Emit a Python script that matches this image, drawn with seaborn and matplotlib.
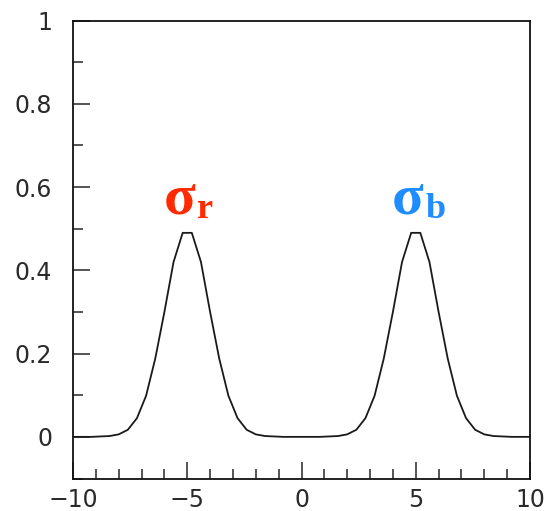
import matplotlib
matplotlib.use("Agg")
import matplotlib.pyplot as plt
import seaborn as sns
import pandas as pd
from matplotlib.ticker import MultipleLocator

x_vals = [-10.0, -9.6, -9.2, -8.8, -8.4, -8.0, -7.6, -7.2, -6.8, -6.4,
          -6.0, -5.6, -5.2, -4.8, -4.4, -4.0, -3.6, -3.2, -2.8, -2.4,
          -2.0, -1.6, -1.2, -0.8, -0.4, 0.0, 0.4, 0.8, 1.2, 1.6,
          2.0, 2.4, 2.8, 3.2, 3.6, 4.0, 4.4, 4.8, 5.2, 5.6,
          6.0, 6.4, 6.8, 7.2, 7.6, 8.0, 8.4, 8.8, 9.2, 9.6, 10.0]
y_vals = [0.0, 0.0, 0.0, 0.001, 0.002, 0.006, 0.017, 0.045, 0.099, 0.188,
          0.30, 0.42, 0.49, 0.49, 0.42, 0.30, 0.188, 0.099, 0.045, 0.017,
          0.006, 0.002, 0.001, 0.0, 0.0, 0.0, 0.0, 0.0, 0.001, 0.002,
          0.006, 0.017, 0.045, 0.099, 0.188, 0.30, 0.42, 0.49, 0.49, 0.42,
          0.30, 0.188, 0.099, 0.045, 0.017, 0.006, 0.002, 0.001, 0.0, 0.0, 0.0]

x_ticks = [-10, -5, 0, 5, 10]
y_ticks = [0, 0.2, 0.4, 0.6, 0.8, 1]
y_tick_labels = ["0", "0.2", "0.4", "0.6", "0.8", "1"]

peak_labels = [("σ", "r", -5.0, "#ff2a00"), ("σ", "b", 5.0, "#1f8cff")]

sns.set_style("ticks")
plt.rcParams['font.family'] = ['DejaVu Sans']

fig = plt.figure(figsize=(5.46, 5.11), dpi=100)
ax = fig.add_axes([73/546, 1 - 478.5/511, (530-73)/546, (478.5-20.5)/511])

df = pd.DataFrame({"x": x_vals, "y": y_vals})
sns.lineplot(data=df, x="x", y="y", ax=ax, color="#1a1a1a", linewidth=1.3)

ax.set_xlim(-10, 10)
ax.set_ylim(-0.1, 1.0)
ax.set_xticks(x_ticks)
ax.set_xticklabels(["\u2212" + str(abs(t)) if t < 0 else str(t) for t in x_ticks])
ax.set_yticks(y_ticks)
ax.set_yticklabels(y_tick_labels)
ax.xaxis.set_minor_locator(MultipleLocator(1))
ax.yaxis.set_minor_locator(MultipleLocator(0.1))
ax.set_xlabel("")
ax.set_ylabel("")

for s in ax.spines.values():
    s.set_linewidth(1.3)
    s.set_color("#111111")

ax.tick_params(axis="both", which="major", direction="in", length=12, width=1.1,
               labelsize=17, labelcolor="#2a2a2a", top=False, right=False)
ax.tick_params(axis="both", which="minor", direction="in", length=7, width=1.1,
               top=False, right=False)
ax.tick_params(axis="y", which="major", pad=15)
ax.tick_params(axis="x", which="major", pad=7)

for main, sub, xc, col in peak_labels:
    ax.text(xc - 0.35, 0.537, main, ha="center", va="baseline", color=col,
            fontsize=42, fontweight="bold", family="Liberation Serif")
    ax.text(xc + 0.42, 0.525, sub, ha="left", va="baseline", color=col,
            fontsize=26, fontweight="bold", family="Liberation Serif")

fig.savefig("out.png", dpi=100)
